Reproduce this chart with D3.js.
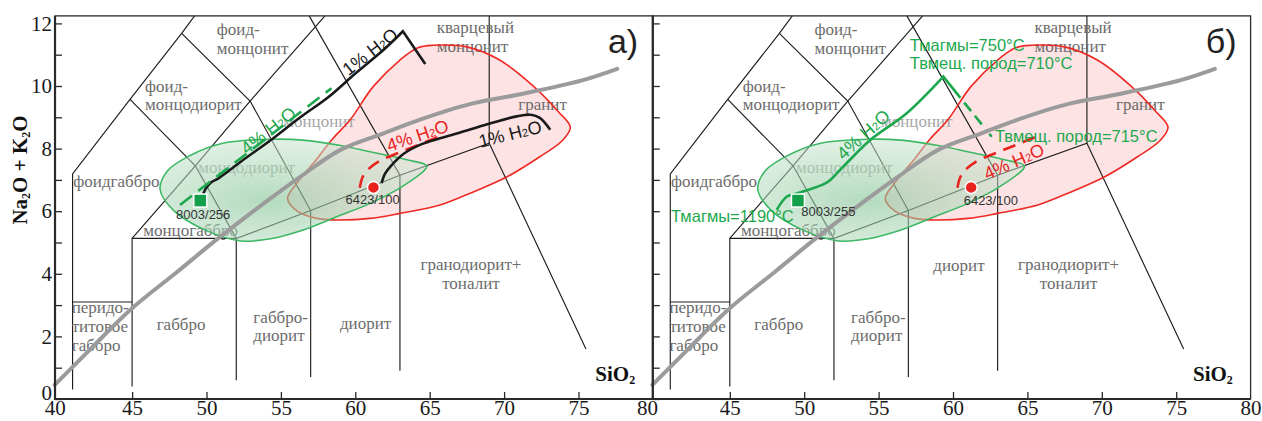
<!DOCTYPE html>
<html>
<head>
<meta charset="utf-8">
<script src="https://cdn.jsdelivr.net/npm/d3@7"></script>
<style>
  body { margin: 0; background: #fff; }
  svg { display: block; }
</style>
</head>
<body>
<div id="chart"></div>
<script>
// ---------- data (SiO2, Na2O+K2O in wt.%) ----------
const xTickValues = [40, 45, 50, 55, 60, 65, 70, 75, 80];
const yTickValues = [0, 1, 2, 3, 4, 5, 6, 7, 8, 9, 10, 11, 12];
const yLabelValues = [0, 2, 4, 6, 8, 10, 12];

// classification field boundaries
const fieldLines = [
    [[41, 0.3], [41, 7.19], [44.86, 9.57], [48.33, 11.68], [49.2, 12.24]],
    [[41, 3.1], [45, 3.1]],
    [[45, 0.4], [45, 5.13], [52, 5.13]],
    [[45, 5.13], [49.25, 7.45], [52.93, 9.52], [57.96, 12.24]],
    [[49.25, 7.45], [52, 5.13]],
    [[52, 0.6], [52, 5.13], [57, 6.02], [63, 7.15], [69, 8.17], [75.5, 1.6]],
    [[57, 0.7], [57, 6.02], [52.93, 9.52], [48.33, 11.68]],
    [[44.86, 9.57], [49.25, 7.45]],
    [[63, 0.9], [63, 7.15], [56.9, 12.24]],
    [[69, 8.17], [69, 12.24]]
];

// alkaline / subalkaline divide (grey curve)
const divideLine = [[39.8, 0.45], [42, 1.5], [45, 2.9], [48, 4.05], [50.8, 5.14], [54.3, 6.41],
    [56.3, 7.1], [59, 7.96], [61.9, 8.49], [64.5, 8.95], [67.7, 9.42], [70.9, 9.72], [75.3, 10.19], [77.6, 10.55]];

// fields of compositions
const greenField = [[46.88, 6.7], [47.4, 7.3], [48.9, 7.78], [51.1, 8.17], [54.5, 8.3], [56.5, 8.27],
    [59, 8.1], [61, 7.9], [63.7, 7.62], [64.8, 7.44], [63.2, 6.8], [61, 6.25], [58.75, 5.82],
    [56.5, 5.4], [54.3, 5.12], [52.3, 5.05], [50, 5.38], [47.8, 6.02]];
const redField = [[65.24, 11.3], [67.5, 11.25], [69.7, 10.83], [72, 9.98], [73.6, 9.2], [74.45, 8.68],
    [73.9, 8.25], [72.4, 7.74], [70.2, 7.1], [67.6, 6.55], [65.7, 6.2], [63, 5.93], [61, 5.77],
    [58.75, 5.72], [57.4, 5.77], [56.1, 6.0], [55.45, 6.4], [56.06, 6.89], [57.3, 7.6], [58.45, 8.3],
    [59.64, 8.91], [61.2, 9.98], [63, 10.83], [64.2, 11.22]];

// field names (first baseline, data units)
const fieldLabels = [
    { lines: ['фоид-', 'монцонит'], x: 50.69, y: 11.63 },
    { lines: ['фоид-', 'монцодиорит'], x: 45.87, y: 9.82 },
    { lines: ['фоидгаббро'], x: 41.05, y: 6.78 },
    { lines: ['монцогаббро'], x: 45.75, y: 5.22 },
    { lines: ['кварцевый', 'монцонит'], x: 65.47, y: 11.68 },
    { lines: ['гранит'], x: 70.95, y: 9.23 },
    { lines: ['перидо-', 'титовое', 'габбро'], x: 40.94, y: 2.74 },
    { lines: ['габбро'], x: 46.65, y: 2.2 },
    { lines: ['габбро-', 'диорит'], x: 53.15, y: 2.44 },
    { lines: ['гранодиорит+', 'тоналит'], x: 67.77, y: 4.12 }
];
const fadedLabels = [
    { lines: ['монцодиорит'], x: 49.45, y: 7.23 },
    { lines: ['монцонит'], x: 55.16, y: 8.68 }
];
const dioriteLabelA = { lines: ['диорит'], x: 58.97, y: 2.23 };
const dioriteLabelB = { lines: ['диорит'], x: 58.68, y: 4.09 };

// samples
const sampleSquare = [49.58, 6.34];
const sampleCircle = [61.22, 6.76];

// panel a: crystallisation paths
const blackUpperA = [[49.68, 6.41], [49.95, 6.72], [50.3, 6.92], [50.8, 7.05], [52.5, 7.65], [54.4, 8.3],
    [56.3, 9.0], [58.2, 9.65], [60, 10.4], [62, 11.2], [63.2, 11.75], [64.7, 10.7]];
const greenDashedA = [[48.22, 6.2], [58.4, 9.93]];
const blackLowerA = [[61.77, 6.9], [62.0, 7.2], [62.4, 7.45], [63.3, 7.85], [64.5, 8.15], [65.7, 8.33],
    [67.5, 8.58], [69.05, 8.8], [70.85, 9.03], [71.8, 9.08], [72.4, 8.98], [73.1, 8.6]];
const redDashed = [[60.3, 6.75], [60.5, 7.1], [60.9, 7.35], [61.6, 7.6], [63, 7.88], [64.4, 8.15], [65.8, 8.42]];

// panel б: 4% H2O path with temperatures
const greenSolidB = [[48.15, 6.04], [48.82, 6.46], [49.5, 6.57], [51.51, 6.91], [52.41, 7.32],
    [54.42, 8.27], [56.89, 9.13], [59.35, 10.3], [60.5, 9.62]];
const greenDashedB = [[60.5, 9.62], [62.6, 8.38]];

// path labels: text before "H2O", centre and angle
const h2oLabelsA = [
    { pre: '1%', x: 60.99, y: 11.1, angle: -38, color: '#1a1a1a' },
    { pre: '4%', x: 54.15, y: 8.58, angle: -38, color: '#1ea84e' },
    { pre: '4%', x: 64.18, y: 8.42, angle: -19, color: '#e8231e' },
    { pre: '1%', x: 70.4, y: 8.47, angle: -14, color: '#1a1a1a' }
];
const h2oLabelsB = [
    { pre: '4%', x: 53.97, y: 8.45, angle: -42, color: '#1ea84e' },
    { pre: '4%', x: 64.1, y: 7.59, angle: -24, color: '#e8231e' }
];
const tempLabelsB = [
    { text: 'Тмагмы=1190°C', x: 41.05, y: 5.64 },
    { text: 'Тмагмы=750°C', x: 57.1, y: 11.13 },
    { text: 'Твмещ. пород=710°C', x: 57.1, y: 10.53 },
    { text: 'Твмещ. пород=715°C', x: 62.82, y: 8.22 }
];
const sampleLabelsA = [{ text: '8003/256', x: 49.78, y: 5.76 }, { text: '6423/100', x: 61.16, y: 6.22 }];
const sampleLabelsB = [{ text: '8003/255', x: 51.62, y: 5.85 }, { text: '6423/100', x: 62.54, y: 6.2 }];

// ---------- drawing ----------
const W = 1262, H = 421;
const SERIF = '"Liberation Serif", "Times New Roman", serif';
const SANS = '"Liberation Sans", Arial, sans-serif';
const GREEN = '#1ea84e';

const svg = d3.select('#chart').append('svg')
    .attr('width', W)
    .attr('height', H);

const defs = svg.append('defs');
const grad = defs.append('radialGradient')
    .attr('id', 'greenFill')
    .attr('cx', '40%').attr('cy', '60%').attr('r', '65%');
grad.append('stop').attr('offset', '0%').attr('stop-color', '#86c597').attr('stop-opacity', 0.62);
grad.append('stop').attr('offset', '100%').attr('stop-color', '#c9e5d1').attr('stop-opacity', 0.5);

function h2oText(sel, pre) {
    sel.append('tspan').text(pre + ' H');
    sel.append('tspan').attr('font-size', '62%').text('2');
    sel.append('tspan').text('O');
}

function drawPanel(range, panel) {
    let x = d3.scaleLinear().domain([40, 80]).range(range);
    let y = d3.scaleLinear().domain([0, 12]).range([399, 23.4]);
    let g = svg.append('g');

    let line = d3.line().x(d => x(d[0])).y(d => y(d[1]));
    let smooth = d3.line().x(d => x(d[0])).y(d => y(d[1])).curve(d3.curveCatmullRom.alpha(0.5));
    let closed = d3.line().x(d => x(d[0])).y(d => y(d[1])).curve(d3.curveCatmullRomClosed.alpha(0.5));

    // pink field
    g.append('path')
        .attr('d', closed(redField))
        .attr('fill', '#fde3e4');

    // field boundaries
    g.selectAll('.bnd')
        .data(fieldLines)
        .join('path')
        .attr('class', 'bnd')
        .attr('d', line)
        .attr('fill', 'none')
        .attr('stroke', '#1e1e1e')
        .attr('stroke-width', 1.15);

    // field names
    let labels = fieldLabels.concat([panel === 'a' ? dioriteLabelA : dioriteLabelB]);
    let drawNames = (data, color) => {
        g.selectAll(null)
            .data(data)
            .join('text')
            .attr('x', d => x(d.x))
            .attr('y', d => y(d.y))
            .attr('text-anchor', d => d.lines[0] === 'гранодиорит+' ? 'middle' : 'start')
            .attr('font-family', SERIF)
            .attr('font-size', 17)
            .attr('fill', color)
            .each(function(d) {
                let t = d3.select(this);
                d.lines.forEach((s, i) => {
                    t.append('tspan')
                        .attr('x', x(d.x))
                        .attr('dy', i === 0 ? 0 : 18.8)
                        .text(s);
                });
            });
    };
    drawNames(labels, '#6c6c6c');
    drawNames(fadedLabels, '#a6a6a6');

    // red outline, green field over it
    g.append('path')
        .attr('d', closed(redField))
        .attr('fill', 'none')
        .attr('stroke', '#ee2a25')
        .attr('stroke-width', 1.6);
    g.append('path')
        .attr('d', closed(greenField))
        .attr('fill', 'url(#greenFill)')
        .attr('stroke', '#3db865')
        .attr('stroke-width', 1.6);

    // divide line
    g.append('path')
        .attr('d', smooth(divideLine))
        .attr('fill', 'none')
        .attr('stroke', '#9b9b9b')
        .attr('stroke-width', 4)
        .attr('stroke-linecap', 'round');

    // red dashed path (both panels)
    g.append('path')
        .attr('d', smooth(redDashed))
        .attr('fill', 'none')
        .attr('stroke', '#e8231e')
        .attr('stroke-width', 2.6)
        .attr('stroke-dasharray', '13,8');

    if (panel === 'a') {
        g.append('path')
            .attr('d', smooth(blackUpperA.slice(0, -1)) + 'L' + x(64.7) + ',' + y(10.7))
            .attr('fill', 'none')
            .attr('stroke', '#1a1a1a')
            .attr('stroke-width', 2.6);
        g.append('path')
            .attr('d', smooth(blackLowerA))
            .attr('fill', 'none')
            .attr('stroke', '#1a1a1a')
            .attr('stroke-width', 2.6);
        g.append('path')
            .attr('d', line(greenDashedA))
            .attr('fill', 'none')
            .attr('stroke', GREEN)
            .attr('stroke-width', 2.6)
            .attr('stroke-dasharray', '15,8');
    } else {
        g.append('path')
            .attr('d', smooth(greenSolidB.slice(0, -1)) + 'L' + x(60.5) + ',' + y(9.62))
            .attr('fill', 'none')
            .attr('stroke', GREEN)
            .attr('stroke-width', 2.6);
        g.append('path')
            .attr('d', line(greenDashedB))
            .attr('fill', 'none')
            .attr('stroke', GREEN)
            .attr('stroke-width', 2.6)
            .attr('stroke-dasharray', '0,6,11,6,11,6');
    }

    // samples
    g.append('rect')
        .attr('x', x(sampleSquare[0]) - 6.5)
        .attr('y', y(sampleSquare[1]) - 6.5)
        .attr('width', 13).attr('height', 13)
        .attr('fill', '#12a04a')
        .attr('stroke', '#fff')
        .attr('stroke-width', 1.5);
    g.append('circle')
        .attr('cx', x(sampleCircle[0]))
        .attr('cy', y(sampleCircle[1]))
        .attr('r', 6)
        .attr('fill', '#e8231e')
        .attr('stroke', '#fff')
        .attr('stroke-width', 1.5);

    g.selectAll(null)
        .data(panel === 'a' ? sampleLabelsA : sampleLabelsB)
        .join('text')
        .attr('x', d => x(d.x))
        .attr('y', d => y(d.y))
        .attr('text-anchor', 'middle')
        .attr('font-family', SANS)
        .attr('font-size', 13)
        .attr('fill', '#333')
        .text(d => d.text);

    // H2O labels
    g.selectAll(null)
        .data(panel === 'a' ? h2oLabelsA : h2oLabelsB)
        .join('text')
        .attr('transform', d => `translate(${x(d.x)},${y(d.y)}) rotate(${d.angle})`)
        .attr('text-anchor', 'middle')
        .attr('dy', '0.35em')
        .attr('font-family', SANS)
        .attr('font-size', 18)
        .attr('fill', d => d.color)
        .each(function(d) { h2oText(d3.select(this), d.pre); });

    if (panel === 'b') {
        g.selectAll(null)
            .data(tempLabelsB)
            .join('text')
            .attr('x', d => x(d.x))
            .attr('y', d => y(d.y))
            .attr('font-family', SANS)
            .attr('font-size', 16.5)
            .attr('fill', GREEN)
            .text(d => d.text);
    }

    // SiO2 and panel letter
    let si = g.append('text')
        .attr('x', x(76.13))
        .attr('y', y(0.58))
        .attr('font-family', SERIF)
        .attr('font-weight', 'bold')
        .attr('font-size', 21)
        .attr('fill', '#111');
    si.append('tspan').text('SiO');
    si.append('tspan').attr('font-size', 12).attr('dy', 3).text('2');

    g.append('text')
        .attr('x', x(76.98))
        .attr('y', y(11.05))
        .attr('font-family', SANS)
        .attr('font-size', 34)
        .attr('fill', '#222')
        .text(panel === 'a' ? 'а)' : 'б)');

    // frame
    let left = x(39.82), right = x(80), top = y(12.24), bottom = y(0);
    g.append('rect')
        .attr('x', left).attr('y', top)
        .attr('width', right - left).attr('height', bottom - top)
        .attr('fill', 'none')
        .attr('stroke', '#2a2a2a')
        .attr('stroke-width', 1.3);
    g.append('path')
        .attr('d', `M${left},${top}V${bottom}H${right}`)
        .attr('fill', 'none')
        .attr('stroke', '#2a2a2a')
        .attr('stroke-width', 2.2);

    // axes
    let yaxis = d3.axisLeft(y)
        .tickValues(yTickValues)
        .tickSizeInner(-7)
        .tickSizeOuter(0)
        .tickPadding(3)
        .tickFormat(d => panel === 'a' && yLabelValues.includes(d) ? d : '');
    let gy = g.append('g')
        .attr('transform', `translate(${left},0)`)
        .call(yaxis);

    let xaxis = d3.axisBottom(x)
        .tickValues(panel === 'a' ? xTickValues : xTickValues.slice(1))
        .tickSizeInner(-7)
        .tickSizeOuter(0)
        .tickPadding(1.5);
    let gx = g.append('g')
        .attr('transform', `translate(0,${bottom})`)
        .call(xaxis);

    [gx, gy].forEach(a => {
        a.select('.domain').remove();
        a.selectAll('.tick line').attr('stroke', '#2a2a2a').attr('stroke-width', 1.3);
        a.selectAll('.tick text')
            .attr('font-family', SERIF)
            .attr('font-size', 21)
            .attr('fill', '#1a1a1a');
    });
    gx.selectAll('.tick line').filter(d => d === 40 || d === 80).remove();
    gy.selectAll('.tick text').filter(d => d === 0).attr('y', -6);
    if (panel === 'a') {
        gx.selectAll('.tick text').attr('dx', d => d === 40 ? -3 : d === 80 ? -6 : 0);
    }
}

drawPanel([57.7, 652.9], 'a');
drawPanel([655.4, 1250.6], 'b');

// y axis title
let yt = svg.append('text')
    .attr('transform', 'translate(27,170) rotate(-90)')
    .attr('text-anchor', 'middle')
    .attr('font-family', SERIF)
    .attr('font-weight', 'bold')
    .attr('font-size', 21)
    .attr('fill', '#111');
yt.append('tspan').text('Na');
yt.append('tspan').attr('font-size', 12).attr('dy', 3).text('2');
yt.append('tspan').attr('dy', -3).text('O + K');
yt.append('tspan').attr('font-size', 12).attr('dy', 3).text('2');
yt.append('tspan').attr('dy', -3).text('O');
</script>
</body>
</html>
